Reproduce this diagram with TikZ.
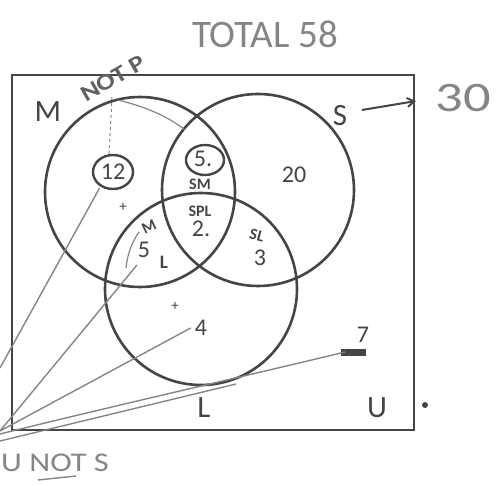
\documentclass[tikz,border=0pt]{standalone}
\usepackage{fontspec}
\setmainfont{Carlito}
\usetikzlibrary{arrows.meta}
\definecolor{ink}{HTML}{454545}
\definecolor{pencil}{HTML}{858585}
\begin{document}
\begin{tikzpicture}[x=1pt,y=-1pt,
  venn/.style={draw=ink,line width=2.6pt},
  setlabel/.style={text=ink,font=\fontsize{31}{31}\selectfont,inner sep=0pt},
  num/.style={text=ink,font=\fontsize{24}{24}\selectfont,inner sep=0pt},
  note/.style={text=ink,font=\fontsize{16}{16}\selectfont\bfseries,inner sep=0pt},
  hand/.style={text=pencil,font=\fontsize{28}{28}\selectfont,inner sep=0pt},
  loop/.style={draw=ink,line width=2.4pt},
  ptr/.style={draw=pencil,line width=1.4pt},
]
\useasboundingbox (0,0) rectangle (498,486);
\clip (0,0) rectangle (498,486);

% universe box and circles
\draw[venn] (12,75) rectangle (414,430);
\draw[venn] (140,192) circle[radius=95];
\draw[venn] (258,190) circle[radius=96];
\draw[venn] (201,289) circle[radius=96];

% set labels
\node[setlabel] (M) at (48,112) {M};
\node[setlabel] (S) at (340,116) {S};
\node[setlabel] (L) at (204,408) {L};
\node[setlabel] (U) at (377,408) {U};

% numbers
\node[num] (n12) at (113,172) {12};
\draw[loop] (113,172) ellipse[x radius=20,y radius=17];
\node[num] (n5a) at (203,159) {5.};
\draw[loop] (205,160) ellipse[x radius=19,y radius=15];
\node[note] (sm) at (200,184) {SM};
\node[note] (spl) at (200,211) {SPL};
\node[num] (n2) at (201,229) {2.};
\node[note,rotate=-15] (sl) at (257,235) {SL};
\node[num] (n3) at (260,258) {3};
\node[note,rotate=25] (mm) at (149,227) {M};
\node[num] (n5b) at (144,250) {5};
\node[note,font=\fontsize{19}{19}\selectfont\bfseries] (bl) at (164,262) {L};
\node[num] (n20) at (294,175) {20};
\node[num] (n4) at (201,328) {4};
\node[num] (n7) at (363,335) {7};
\fill[ink] (341,349) rectangle (366,356);

% small pencil crosses
\node[text=ink,font=\fontsize{15}{15}\selectfont] (c1) at (123,207) {+};
\node[text=ink,font=\fontsize{15}{15}\selectfont] (c2) at (175,306) {+};

% handwritten notes
\node[hand,font=\fontsize{39}{39}\selectfont] (total) at (265,34) {TOTAL 58};
\node[hand,font=\fontsize{42}{42}\selectfont,xscale=1.3] (thirty) at (463,98) {30};
\node[hand,font=\fontsize{23}{23}\selectfont\bfseries,text=ink!85,rotate=30,xscale=1.2] (notp) at (113,78) {NOT P};
\node[hand,font=\fontsize{27}{27}\selectfont,anchor=west,xscale=1.2] (unots) at (1,463) {U NOT S};
\draw[pencil,line width=1.4pt] (38,480) -- (76,476);
\fill[ink] (425,405) circle[radius=3];

% arrow from S to 30
\coordinate (boxR) at (416,101);
\draw[ink,line width=2pt,-{Straight Barb[length=7pt,width=9pt]}] (362,110) -- (boxR);

% pencil strokes
\draw[pencil,line width=1pt,dashed] (112,97) -- (109,155);
\draw[pencil,line width=1.2pt] (118,100) .. controls (150,108) and (170,118) .. (185,130);
\draw[pencil,line width=1.2pt] (139,232) .. controls (130,245) and (127,258) .. (126,268);

% connectors to the outside (U not S)
\coordinate (e12) at (0,368);
\coordinate (e5) at (0,431);
\coordinate (e4) at (0,431);
\coordinate (e7) at (0,434);
\coordinate (eL) at (0,441);
\coordinate (sL) at (236,384);
\draw[ptr] (n12.south west) ++(-1,8) -- (e12);
\draw[ptr] (137,265) -- (e5);
\draw[ptr] (n4.west) ++(-4,0) -- (e4);
\draw[ptr] (345,352) .. controls (250,375) and (130,402) .. (e7);
\draw[ptr] (sL) -- (eL);
\end{tikzpicture}
\end{document}
